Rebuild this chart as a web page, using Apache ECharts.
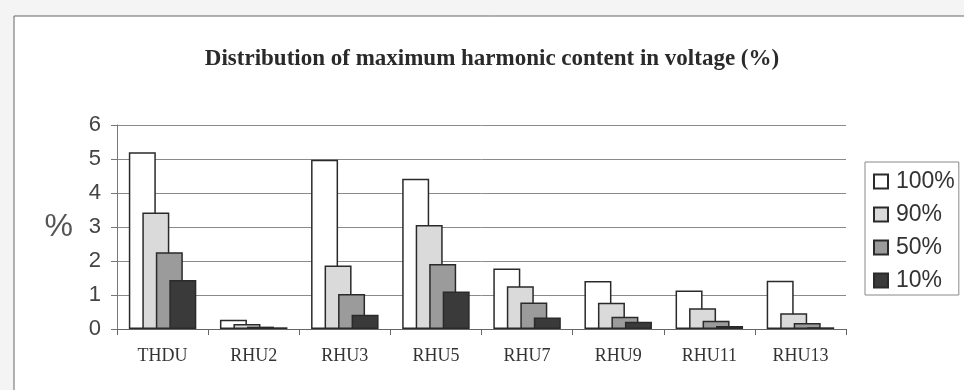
<!DOCTYPE html>
<html>
<head>
<meta charset="utf-8">
<script src="https://cdn.jsdelivr.net/npm/echarts@6/dist/echarts.min.js"></script>
<style>
  html, body { margin: 0; padding: 0; background: #f4f4f4; }
  #chart { width: 964px; height: 390px; }
</style>
</head>
<body>
<div id="chart"></div>
<script>
// Harmonic categories along the x axis
const categories = ['THDU', 'RHU2', 'RHU3', 'RHU5', 'RHU7', 'RHU9', 'RHU11', 'RHU13'];

// Maximum harmonic content (%) for each probability level
const p100 = [5.2, 0.27, 4.98, 4.42, 1.78, 1.41, 1.13, 1.42];
const p90  = [3.43, 0.15, 1.87, 3.06, 1.26, 0.77, 0.61, 0.46];
const p50  = [2.26, 0.07, 1.03, 1.91, 0.78, 0.36, 0.24, 0.18];
const p10  = [1.44, 0.05, 0.42, 1.10, 0.34, 0.21, 0.09, 0.05];

const seriesNames = ['100%', '90%', '50%', '10%'];
const yTicks = [0, 1, 2, 3, 4, 5, 6];

const fills = ['#ffffff', '#dadada', '#9b9b9b', '#3a3a3a'];
const values = [p100, p90, p50, p10];

const chart = echarts.init(document.getElementById('chart'));

chart.setOption({
  backgroundColor: '#f4f4f4',
  animation: false,
  graphic: {
    elements: [{
      type: 'rect',
      z: -100,
      shape: { x: 14, y: 16, width: 960, height: 390 },
      style: { fill: '#ffffff', stroke: '#666666', lineWidth: 1 }
    }]
  },
  title: {
    text: 'Distribution of maximum harmonic content in voltage (%)',
    left: 487,
    textAlign: 'center',
    top: 43,
    textStyle: {
      fontFamily: '"Liberation Serif", "DejaVu Serif", serif',
      fontWeight: 'bold',
      fontSize: 23,
      color: '#2a2a2a'
    }
  },
  legend: {
    orient: 'vertical',
    left: 865,
    top: 162,
    padding: [8, 4, 3, 8],
    itemWidth: 14,
    itemHeight: 14,
    itemGap: 10,
    borderColor: '#888888',
    borderWidth: 1,
    icon: 'rect',
    data: seriesNames,
    textStyle: {
      fontFamily: '"Liberation Sans", Arial, sans-serif',
      fontSize: 23,
      lineHeight: 22,
      color: '#333333',
      padding: [0, 0, 0, 3]
    }
  },
  grid: {
    left: 117,
    right: 118,
    top: 125,
    bottom: 61
  },
  xAxis: {
    type: 'category',
    data: categories,
    axisLine: { lineStyle: { color: '#666666', width: 1 } },
    axisTick: { show: true, length: 6, lineStyle: { color: '#666666' } },
    axisLabel: {
      margin: 18,
      fontFamily: '"Liberation Serif", "DejaVu Serif", serif',
      fontSize: 18,
      color: '#333333'
    }
  },
  yAxis: {
    type: 'value',
    min: yTicks[0],
    max: yTicks[yTicks.length - 1],
    interval: 1,
    name: '%',
    nameLocation: 'middle',
    nameRotate: 0,
    nameGap: 44,
    nameTextStyle: {
      fontFamily: '"Liberation Sans", Arial, sans-serif',
      fontSize: 32,
      color: '#555555'
    },
    axisLine: { show: true, lineStyle: { color: '#777777', width: 1 } },
    axisTick: { show: true, length: 6, lineStyle: { color: '#777777' } },
    axisLabel: {
      margin: 16,
      fontFamily: '"Liberation Sans", Arial, sans-serif',
      fontSize: 22,
      color: '#444444'
    },
    splitLine: { show: true, lineStyle: { color: '#8a8a8a', width: 1 } }
  },
  series: seriesNames.map((name, i) => ({
    name: name,
    type: 'bar',
    data: values[i],
    barWidth: 27,
    barGap: '-50%',
    itemStyle: {
      color: fills[i],
      borderColor: '#2a2a2a',
      borderWidth: 1.5
    }
  }))
});
</script>
</body>
</html>
